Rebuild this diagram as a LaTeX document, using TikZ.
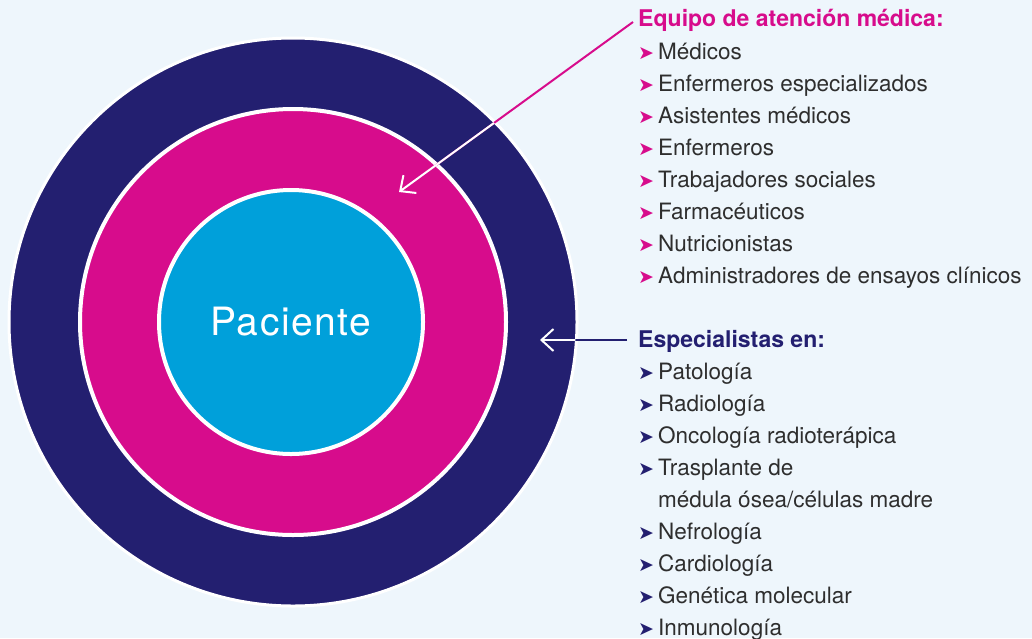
\documentclass[tikz,border=0pt]{standalone}
\usepackage{fontspec}
\setmainfont{TeX Gyre Heros}
\newfontfamily\bulfont{DejaVu Sans}
\usetikzlibrary{arrows.meta}
\definecolor{bgblue}{HTML}{EEF6FC}
\definecolor{navyring}{HTML}{231F70}
\definecolor{pinkring}{HTML}{D70C8C}
\definecolor{cyanring}{HTML}{00A0DA}
\definecolor{txtgrey}{HTML}{2E2E2E}
\newcommand{\bul}[1]{\makebox[20pt][l]{\bulfont\fontsize{19}{19}\selectfont\textcolor{#1}{➤}}}
\tikzset{
  ring/.style={shape=circle,draw=white,inner sep=0},
  head/.style={anchor=base west,inner sep=0,font=\bfseries\fontsize{23}{23}\selectfont},
  entry/.style={anchor=base west,inner sep=0,text=txtgrey,font=\fontsize{22.5}{22.5}\selectfont},
  pointer/.style={line width=2pt,-{Straight Barb[length=12pt,width=22pt,line width=2pt]}}
}
\begin{document}
\begin{tikzpicture}[x=1pt,y=-1pt]
  \useasboundingbox[fill=bgblue] (0,0) rectangle (1032,638);
  % rings
  \node[ring,fill=navyring,line width=3pt,minimum size=568pt] (outer) at (293,322) {};
  \node[ring,fill=pinkring,line width=4pt,minimum size=426pt] (middle) at (293,322) {};
  \node[ring,fill=cyanring,line width=4pt,minimum size=264pt,text=white,
        font=\addfontfeature{LetterSpace=4}\fontsize{39}{39}\selectfont] (inner) at (291,322) {Paciente};
  % care team
  \node[head,text=pinkring] (team) at (638,26) {Equipo de atención médica:};
  \foreach \txt [count=\i] in {Médicos,Enfermeros especializados,Asistentes médicos,Enfermeros,
      Trabajadores sociales,Farmacéuticos,Nutricionistas,Administradores de ensayos clínicos}
    \node[entry] (t\i) at (638,27+32*\i) {\bul{pinkring}\txt};
  % specialists
  \node[head,text=navyring] (spec) at (638,347) {Especialistas en:};
  \foreach \txt [count=\i] in {Patología,Radiología,Oncología radioterápica,Trasplante de}
    \node[entry] (s\i) at (638,347+32*\i) {\bul{navyring}\txt};
  \node[entry] (s5) at (658,507) {médula ósea/células madre};
  \foreach \txt [count=\i from 6] in {Nefrología,Cardiología,Genética molecular,Inmunología}
    \node[entry] (s\i) at (638,347+32*\i) {\bul{navyring}\txt};
  % pointers
  \coordinate (teamtip) at (399,192);
  \coordinate (spectip) at (540,340);
  \coordinate (teamend) at (633,22);
  \coordinate (specend) at (627,340);
  \draw[pointer,pinkring] (teamend) -- (teamtip);
  \draw[pointer,navyring] (specend) -- (spectip);
  \begin{scope}
    \clip (outer.center) circle (283pt);
    \draw[pointer,white] (teamend) -- (teamtip);
    \draw[pointer,white] (specend) -- (spectip);
  \end{scope}
\end{tikzpicture}
\end{document}
